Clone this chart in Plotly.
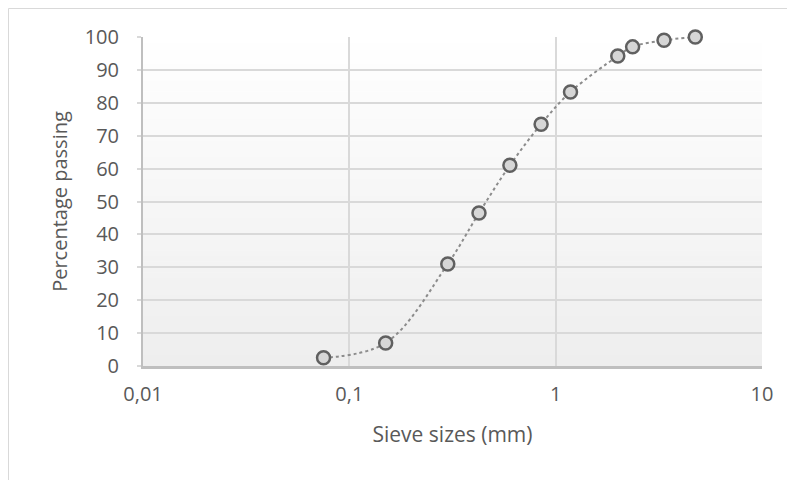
import plotly.graph_objects as go

sieve_mm = [0.075, 0.15, 0.3, 0.425, 0.6, 0.85, 1.18, 2.0, 2.36, 3.35, 4.75]
passing = [2.5, 7.0, 31.0, 46.5, 61.0, 73.5, 83.3, 94.2, 97.0, 99.0, 100.0]
x_ticks = [0.01, 0.1, 1, 10]
x_tick_labels = ["0,01", "0,1", "1", "10"]
y_ticks = list(range(0, 101, 10))

W, H = 787, 472
L, R, T, B = 135, 33, 29, 114
PW, PH = W - L - R, H - T - B

fig = go.Figure()
fig.add_trace(go.Scatter(
    x=sieve_mm, y=passing, mode="lines+markers",
    line=dict(color="#8c8c8c", width=2, dash="dot", shape="spline", smoothing=1.0),
    marker=dict(size=13, color="#d6d6d6", line=dict(color="#606060", width=2.5)),
    cliponaxis=False, showlegend=False,
))

# gradient plot background (bands)
n = 60
for i in range(n):
    t = i / n
    c = int(round(255 - (255 - 238) * (1 - t)))
    fig.add_shape(type="rect", xref="x domain", yref="y domain",
                  x0=0, x1=1, y0=t, y1=t + 1.0 / n + 0.002,
                  fillcolor=f"rgb({c},{c},{c})", line=dict(width=0), layer="below")

# outer chart border: top and left edges
x_left = (0.5 - L) / PW
y_top = 1 + (T - 0.5) / PH
fig.add_shape(type="line", xref="paper", yref="paper",
              x0=x_left, x1=(W - L) / PW, y0=y_top, y1=y_top,
              line=dict(color="#d9d9d9", width=1))
fig.add_shape(type="line", xref="paper", yref="paper",
              x0=x_left, x1=x_left, y0=y_top, y1=-B / PH,
              line=dict(color="#d9d9d9", width=1))

font = "Open Sans, Noto Sans, sans-serif"
fig.update_layout(
    width=W, height=H,
    margin=dict(l=L, r=R, t=T, b=B),
    paper_bgcolor="white", plot_bgcolor="rgba(0,0,0,0)",
    font=dict(family=font, color="#595959", size=20),
    xaxis=dict(type="log", range=[-2, 1], tickvals=x_ticks, ticktext=x_tick_labels,
               showgrid=True, gridcolor="#d9d9d9", gridwidth=2,
               showline=True, linecolor="#bfbfbf", linewidth=2.5,
               ticks="outside", ticklen=0, ticklabelstandoff=8,
               tickfont=dict(size=20, color="#595959"),
               title=dict(text="Sieve sizes (mm)", font=dict(size=21, color="#595959"), standoff=22),
               zeroline=False),
    yaxis=dict(range=[0, 100], tickvals=y_ticks,
               showgrid=True, gridcolor="#d9d9d9", gridwidth=2,
               showline=True, linecolor="#bfbfbf", linewidth=2,
               ticks="outside", ticklen=4, tickcolor="#d9d9d9", tickwidth=2,
               ticklabelstandoff=14,
               tickfont=dict(size=20, color="#595959"),
               title=dict(text="Percentage passing", font=dict(size=20, color="#595959"), standoff=12),
               zeroline=False),
)
fig.write_html("out.html")
